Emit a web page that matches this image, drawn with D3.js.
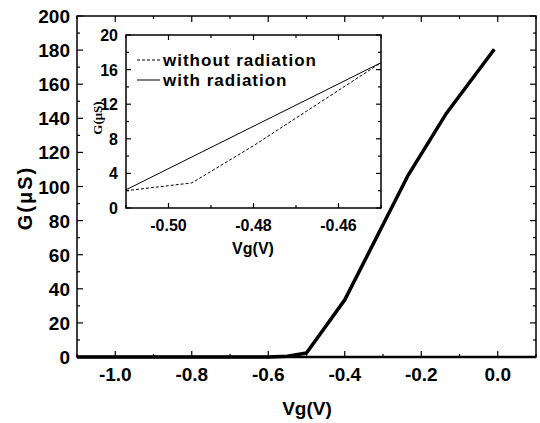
<!DOCTYPE html>
<html>
<head>
<meta charset="utf-8">
<script src="https://cdn.jsdelivr.net/npm/d3@7"></script>
<style>
  body { margin: 0; background: #fff; }
  text { font-family: "Liberation Sans", Arial, sans-serif; font-weight: bold; fill: #000; }
</style>
</head>
<body>
<svg id="chart" width="540" height="423"></svg>
<script>
// main curve, G vs Vg
var mainVg = [-1.1, -0.6, -0.55, -0.5, -0.4, -0.234, -0.134, -0.009];
var mainG  = [0, 0, 0.5, 2.3, 33.5, 106.7, 143, 180.5];
var mainXTicks = [-1.0, -0.8, -0.6, -0.4, -0.2, 0.0];
var mainYTicks = [0, 20, 40, 60, 80, 100, 120, 140, 160, 180, 200];

// inset, zoomed near threshold
var insetVg = [-0.51, -0.4945, -0.48, -0.45];
var insetNoRad = [2.0, 2.9, 7.2, 16.8];
var insetRadVg = [-0.51, -0.45];
var insetRad = [2.1, 16.8];
var insetXTicks = [-0.50, -0.48, -0.46];
var insetYTicks = [0, 4, 8, 12, 16, 20];
var legendLabels = ["without radiation", "with radiation"];

var svg = d3.select("#chart");

// inward ticks on all four sides of a box
function drawTicks(g, sx, sy, xt, xmin, yt, ymin, box, major, minor) {
  xmin.forEach(function(v) {
    var px = sx(v), L = xt.some(function(t) { return Math.abs(t - v) < 1e-9; }) ? major : minor;
    g.append("line").attr("x1", px).attr("x2", px).attr("y1", box.bottom).attr("y2", box.bottom - L);
    g.append("line").attr("x1", px).attr("x2", px).attr("y1", box.top).attr("y2", box.top + L);
  });
  ymin.forEach(function(v) {
    var py = sy(v), L = yt.some(function(t) { return Math.abs(t - v) < 1e-9; }) ? major : minor;
    g.append("line").attr("x1", box.left).attr("x2", box.left + L).attr("y1", py).attr("y2", py);
    g.append("line").attr("x1", box.right).attr("x2", box.right - L).attr("y1", py).attr("y2", py);
  });
  g.selectAll("line").attr("stroke", "#000").attr("stroke-width", 1.2);
}

// ---- main plot
var m = { left: 77, top: 16, right: 536, bottom: 357 };
var x = d3.scaleLinear().domain([-1.1, 0.1]).range([m.left, m.right]);
var y = d3.scaleLinear().domain([0, 200]).range([m.bottom, m.top]);

var main = svg.append("g");

var mainXMinor = d3.range(-1.1, 0.1001, 0.1).map(function(v) { return Math.round(v * 10) / 10; });
var mainYMinor = d3.range(0, 201, 10);
drawTicks(main.append("g"), x, y, mainXTicks, mainXMinor, mainYTicks, mainYMinor, m, 6, 3);

main.append("rect")
  .attr("x", m.left).attr("y", m.top)
  .attr("width", m.right - m.left).attr("height", m.bottom - m.top)
  .attr("fill", "none").attr("stroke", "#000").attr("stroke-width", 1.5);
main.append("line")
  .attr("x1", m.left).attr("x2", m.right).attr("y1", m.bottom).attr("y2", m.bottom)
  .attr("stroke", "#000").attr("stroke-width", 2.5);

main.selectAll(".xl").data(mainXTicks).enter().append("text")
  .attr("x", function(d) { return x(d); }).attr("y", 381)
  .attr("text-anchor", "middle").style("font-size", "19px")
  .text(function(d) { return d.toFixed(1); });
main.selectAll(".yl").data(mainYTicks).enter().append("text")
  .attr("x", 70).attr("y", function(d) { return y(d) + 7; })
  .attr("text-anchor", "end").style("font-size", "19px")
  .text(function(d) { return d; });

main.append("text").attr("x", 307).attr("y", 415)
  .attr("text-anchor", "middle").style("font-size", "19px").text("Vg(V)");
main.append("text").attr("transform", "translate(32,198) rotate(-90)")
  .attr("text-anchor", "middle").style("font-size", "20px").style("letter-spacing", "2px")
  .text("G(\u03bcS)");

var line = d3.line().x(function(d) { return x(d[0]); }).y(function(d) { return y(d[1]); });
main.append("path")
  .datum(d3.zip(mainVg, mainG))
  .attr("d", line)
  .attr("fill", "none").attr("stroke", "#000").attr("stroke-width", 3.5)
  .attr("stroke-linejoin", "round");

// ---- inset
var b = { left: 126, top: 35, right: 381, bottom: 208 };
var ix = d3.scaleLinear().domain([-0.51, -0.45]).range([b.left, b.right]);
var iy = d3.scaleLinear().domain([0, 20]).range([b.bottom, b.top]);
var inset = svg.append("g");

inset.append("rect")
  .attr("x", b.left).attr("y", b.top)
  .attr("width", b.right - b.left).attr("height", b.bottom - b.top)
  .attr("fill", "#fff").attr("stroke", "#000").attr("stroke-width", 1.5);

var insetXMinor = d3.range(-0.51, -0.4499, 0.01).map(function(v) { return Math.round(v * 100) / 100; });
var insetYMinor = d3.range(0, 21, 2);
drawTicks(inset.append("g"), ix, iy, insetXTicks, insetXMinor, insetYTicks, insetYMinor, b, 5, 3);

inset.selectAll(".ixl").data(insetXTicks).enter().append("text")
  .attr("x", function(d) { return ix(d); }).attr("y", 231)
  .attr("text-anchor", "middle").style("font-size", "16px")
  .text(function(d) { return d.toFixed(2); });
inset.selectAll(".iyl").data(insetYTicks).enter().append("text")
  .attr("x", 118).attr("y", function(d) { return iy(d) + 6; })
  .attr("text-anchor", "end").style("font-size", "16px")
  .text(function(d) { return d; });

inset.append("text").attr("x", 253).attr("y", 254)
  .attr("text-anchor", "middle").style("font-size", "16px").text("Vg(V)");
inset.append("text").attr("transform", "translate(102,118) rotate(-90)")
  .attr("text-anchor", "middle")
  .style("font-family", "'Liberation Serif', 'Times New Roman', serif").style("font-size", "13px")
  .text("G(\u03bcS)");

var iline = d3.line().x(function(d) { return ix(d[0]); }).y(function(d) { return iy(d[1]); });
inset.append("path")
  .datum(d3.zip(insetVg, insetNoRad))
  .attr("d", iline)
  .attr("fill", "none").attr("stroke", "#000").attr("stroke-width", 1)
  .attr("stroke-dasharray", "3,2");
inset.append("path")
  .datum(d3.zip(insetRadVg, insetRad))
  .attr("d", iline)
  .attr("fill", "none").attr("stroke", "#000").attr("stroke-width", 1);

// legend
var leg = inset.selectAll(".leg").data(legendLabels).enter().append("g")
  .attr("transform", function(d, i) { return "translate(137," + (60 + i * 20) + ")"; });
leg.append("line").attr("x1", 0).attr("x2", 23).attr("y1", 0).attr("y2", 0)
  .attr("stroke", "#000").attr("stroke-width", 1)
  .attr("stroke-dasharray", function(d, i) { return i === 0 ? "3,2" : null; });
leg.append("text").attr("x", 26).attr("y", 5.5)
  .style("font-size", "17px").style("letter-spacing", "1px")
  .text(function(d) { return d; });
</script>
</body>
</html>
